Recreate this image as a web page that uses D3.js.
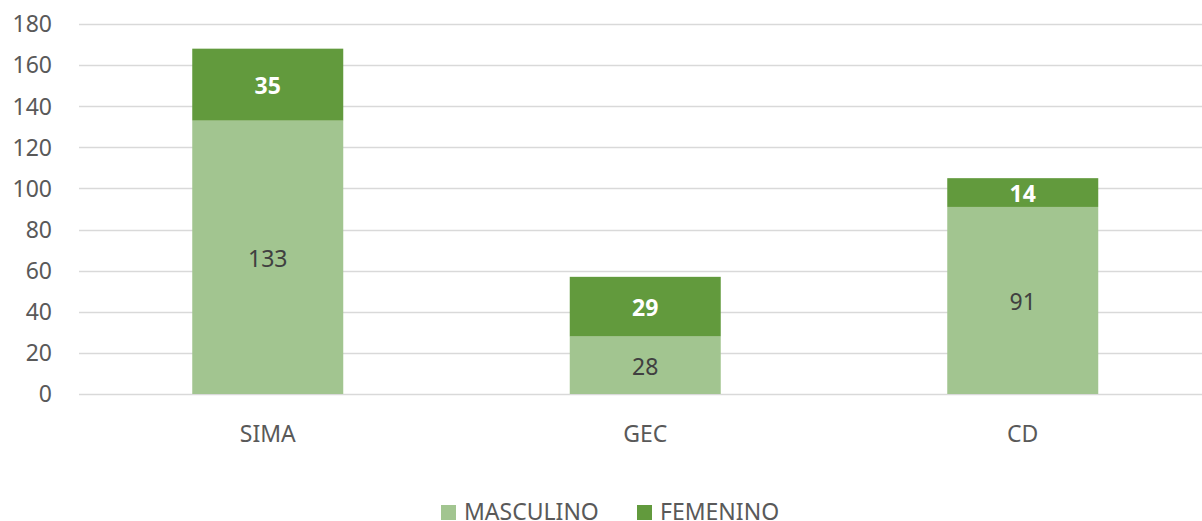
<!doctype html>
<html lang="es">
<head>
<meta charset="UTF-8">
<title>Chart</title>
<script src="https://d3js.org/d3.v7.min.js"></script>
<style>
  body { margin: 0; background: #fff; }
  text { font-family: "Source Sans Pro", "Noto Sans", sans-serif; }
</style>
</head>
<body>
<div id="chart-area"></div>
<script>
const categories = ['SIMA', 'GEC', 'CD'];
const masculino = [133, 28, 91];
const femenino = [35, 29, 14];
const yTicks = [0, 20, 40, 60, 80, 100, 120, 140, 160, 180];
const seriesNames = ['MASCULINO', 'FEMENINO'];
const colors = ['#a2c590', '#629a3d'];

const chartW = 1202, chartH = 521;
const plotL = 79, plotR = 1211.5, plotT = 24, plotB = 394;

const svg = d3.select('#chart-area')
    .append('svg')
    .attr('width', chartW)
    .attr('height', chartH);

const x = d3.scaleBand()
    .domain(categories)
    .range([plotL, plotR])
    .paddingInner(0.6)
    .paddingOuter(0.3);

const y = d3.scaleLinear()
    .domain([0, 180])
    .range([plotB, plotT]);

// gridlines
svg.append('g')
    .selectAll('line')
    .data(yTicks)
    .join('line')
    .attr('x1', plotL)
    .attr('x2', chartW)
    .attr('y1', d => Math.round(y(d)) + 0.5)
    .attr('y2', d => Math.round(y(d)) + 0.5)
    .attr('stroke', '#d9d9d9')
    .attr('stroke-width', 1.5);

// y labels
svg.append('g')
    .selectAll('text')
    .data(yTicks)
    .join('text')
    .attr('x', 52)
    .attr('y', d => y(d))
    .attr('dy', '0.36em')
    .attr('text-anchor', 'end')
    .attr('fill', '#595959')
    .attr('font-size', 23)
    .text(d => d);

const rows = categories.map((c, i) => ({ cat: c, MASCULINO: masculino[i], FEMENINO: femenino[i] }));
const stacked = d3.stack().keys(seriesNames)(rows);

const groups = svg.append('g')
    .selectAll('g')
    .data(stacked)
    .join('g')
    .attr('fill', (d, i) => colors[i]);

groups.selectAll('rect')
    .data(d => d)
    .join('rect')
    .attr('x', d => x(d.data.cat))
    .attr('width', x.bandwidth())
    .attr('y', d => y(d[1]))
    .attr('height', d => y(d[0]) - y(d[1]));

// value labels
stacked.forEach((s, si) => {
    svg.append('g')
        .selectAll('text')
        .data(s)
        .join('text')
        .attr('x', d => x(d.data.cat) + x.bandwidth() / 2)
        .attr('y', d => (y(d[0]) + y(d[1])) / 2)
        .attr('dy', '0.42em')
        .attr('text-anchor', 'middle')
        .attr('font-size', 23)
        .attr('font-weight', si === 1 ? 'bold' : 'normal')
        .attr('fill', si === 1 ? '#ffffff' : '#404040')
        .text(d => d[1] - d[0]);
});

// x labels
svg.append('g')
    .selectAll('text')
    .data(categories)
    .join('text')
    .attr('x', d => x(d) + x.bandwidth() / 2)
    .attr('y', 434)
    .attr('dy', '0.36em')
    .attr('text-anchor', 'middle')
    .attr('fill', '#595959')
    .attr('font-size', 23)
    .text(d => d);

// legend
const legendX = [441, 637];
const legend = svg.append('g')
    .selectAll('g')
    .data(seriesNames)
    .join('g')
    .attr('transform', (d, i) => `translate(${legendX[i]},505)`);

legend.append('rect')
    .attr('width', 15)
    .attr('height', 15)
    .attr('fill', (d, i) => colors[i]);

legend.append('text')
    .attr('x', 23)
    .attr('y', 15)
    .attr('fill', '#595959')
    .attr('font-size', 23)
    .text(d => d);
</script>
</body>
</html>
